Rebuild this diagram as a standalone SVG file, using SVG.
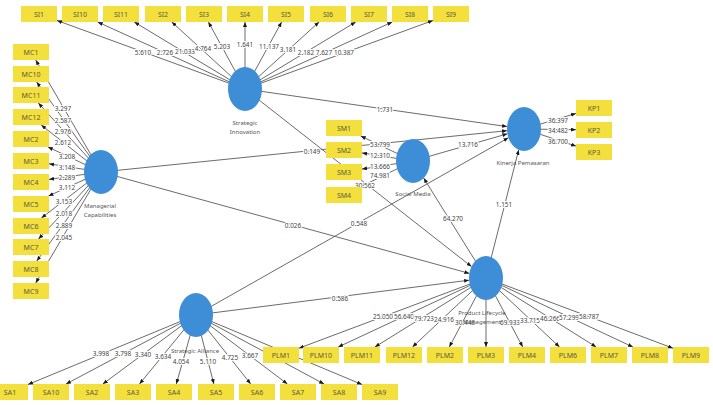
<svg xmlns="http://www.w3.org/2000/svg" width="713" height="405" viewBox="0 0 713 405">
<style>
.ln{stroke:#5a5a5a;stroke-width:0.9;fill:none;marker-end:url(#ah)}
.lb{font-family:"Noto Sans","DejaVu Sans",sans-serif;font-size:6.4px;fill:#444;text-anchor:middle;paint-order:stroke;stroke:#fff;stroke-width:2.2px;stroke-linejoin:round}
.bx{fill:#F4E03C}
.bt{font-family:"Noto Sans","DejaVu Sans",sans-serif;font-size:7px;fill:#5a5a4a;text-anchor:middle}
.lv{fill:#3D8ED6}
.lt{font-family:"Noto Sans","DejaVu Sans",sans-serif;font-size:6px;fill:#555;text-anchor:middle}
</style>
<defs>
<marker id="ah" viewBox="0 0 10 8" refX="10" refY="4" markerWidth="5" markerHeight="4" markerUnits="userSpaceOnUse" orient="auto"><path d="M0,0 L10,4 L0,8 z" fill="#1a1a1a"/></marker>
</defs>
<rect width="713" height="405" fill="#fff"/>
<g id="connectors">
<path class="ln" d="M245,89 L57,20.5"/><path class="ln" d="M245,89 L97.7,22"/><path class="ln" d="M245,89 L134.3,22"/><path class="ln" d="M245,89 L171.8,22"/><path class="ln" d="M245,89 L208.4,22"/><path class="ln" d="M245,89 L245,22"/><path class="ln" d="M245,89 L281.6,22"/><path class="ln" d="M245,89 L319.1,22"/><path class="ln" d="M245,89 L355.7,22"/><path class="ln" d="M245,89 L392.3,22"/><path class="ln" d="M245,89 L433,20.5"/>
<path class="ln" d="M101,172 L35.7,60"/><path class="ln" d="M101,172 L36.7,82"/><path class="ln" d="M101,172 L38.3,103"/><path class="ln" d="M101,172 L41.2,125"/><path class="ln" d="M101,172 L48,147"/><path class="ln" d="M101,172 L49,163.8"/><path class="ln" d="M101,172 L49,179.4"/><path class="ln" d="M101,172 L48.5,196"/><path class="ln" d="M101,172 L41.4,218"/><path class="ln" d="M101,172 L38.5,239"/><path class="ln" d="M101,172 L36.8,261"/><path class="ln" d="M101,172 L35.7,283"/>
<path class="ln" d="M413,161 L360.7,136"/><path class="ln" d="M413,161 L362,152.9"/><path class="ln" d="M413,161 L362,169.1"/><path class="ln" d="M413,161 L360.2,187"/>
<path class="ln" d="M524,129 L576,113.4"/><path class="ln" d="M524,129 L576,129.7"/><path class="ln" d="M524,129 L576,146.1"/>
<path class="ln" d="M486,278 L299,348.2"/><path class="ln" d="M486,278 L338.2,347"/><path class="ln" d="M486,278 L374.9,347"/><path class="ln" d="M486,278 L412.5,347"/><path class="ln" d="M486,278 L449.3,347"/><path class="ln" d="M486,278 L486,347"/><path class="ln" d="M486,278 L522.7,347"/><path class="ln" d="M486,278 L559.5,347"/><path class="ln" d="M486,278 L596.2,347"/><path class="ln" d="M486,278 L632.9,347"/><path class="ln" d="M486,278 L673,348.2"/>
<path class="ln" d="M196,315 L28,384.5"/><path class="ln" d="M196,315 L66,384"/><path class="ln" d="M196,315 L102.8,384"/><path class="ln" d="M196,315 L139.5,384"/><path class="ln" d="M196,315 L176.3,384"/><path class="ln" d="M196,315 L213.9,384"/><path class="ln" d="M196,315 L250.7,384"/><path class="ln" d="M196,315 L287.4,384"/><path class="ln" d="M196,315 L324.1,384"/><path class="ln" d="M196,315 L362,384.5"/>
<path class="ln" d="M101,172 L507,130.7"/>
<path class="ln" d="M245,89 L507.1,126.6"/>
<path class="ln" d="M413,161 L507.4,133.8"/>
<path class="ln" d="M196,315 L508.4,137.8"/>
<path class="ln" d="M486,278 L518.7,149.9"/>
<path class="ln" d="M101,172 L469.4,273.4"/>
<path class="ln" d="M245,89 L471.5,266.6"/>
<path class="ln" d="M196,315 L469.1,280.2"/>
<path class="ln" d="M486,278 L423.7,178.1"/>
<g class="lb">
<text x="143" y="54.5">5.610</text><text x="165" y="54.5">2.726</text><text x="185" y="53.5">21.033</text><text x="203" y="51">4.764</text><text x="222" y="49">5.203</text><text x="245" y="47">1.641</text><text x="269" y="49">11.137</text><text x="288" y="52">3.181</text><text x="306" y="54.5">2.182</text><text x="324" y="54.5">7.627</text><text x="344" y="54.5">10.387</text>
<text x="63" y="110.5">3.297</text><text x="63" y="122.5">2.587</text><text x="63" y="133.5">2.976</text><text x="63" y="144.5">2.612</text><text x="67" y="158.5">3.208</text><text x="67" y="169.5">3.148</text><text x="67" y="179.5">2.289</text><text x="67" y="189.5">3.112</text><text x="64" y="203.5">3.153</text><text x="64" y="215.5">2.018</text><text x="64" y="227.5">2.889</text><text x="64" y="239.5">2.045</text>
<text x="380" y="146.5">53.799</text><text x="380" y="157.5">12.310</text><text x="380" y="168.5">13.666</text><text x="380" y="178">74.981</text>
<text x="558" y="122.5">36.397</text><text x="558" y="132.5">34.482</text><text x="558" y="143.5">36.700</text>
<text x="101" y="355.5">3.998</text><text x="123" y="355.5">3.798</text><text x="143" y="356.5">3.340</text><text x="163" y="358.5">3.634</text><text x="181" y="364">4.054</text><text x="208" y="364">5.110</text><text x="230" y="359.5">4.725</text><text x="250" y="357.5">3.667</text>
<text x="383" y="319">25.050</text><text x="404" y="318.5">56.640</text><text x="424" y="320.5">79.723</text><text x="444" y="321.5">24.916</text><text x="465" y="324.5">30.448</text><text x="510" y="324.5">69.933</text><text x="530" y="322.5">33.715</text><text x="550" y="320.5">46.266</text><text x="569" y="319.5">57.299</text><text x="589" y="318.5">58.787</text>
<text x="312" y="153.5">0.149</text><text x="385" y="111.5">1.731</text><text x="293" y="227.5">0.026</text><text x="359" y="225.5">0.548</text><text x="340" y="300.5">0.586</text><text x="468" y="146.5">13.716</text><text x="453" y="220.5">64.270</text><text x="504" y="206.5">1.151</text><text x="365" y="187.5">30.562</text>
</g>
</g>
<g id="SI_indicators">
<rect class="bx" x="21" y="6" width="36" height="16"/><text class="bt" x="39" y="16.5">SI1</text>
<rect class="bx" x="62" y="6" width="36" height="16"/><text class="bt" x="80" y="16.5">SI10</text>
<rect class="bx" x="103" y="6" width="36" height="16"/><text class="bt" x="121" y="16.5">SI11</text>
<rect class="bx" x="145" y="6" width="36" height="16"/><text class="bt" x="163" y="16.5">SI2</text>
<rect class="bx" x="186" y="6" width="36" height="16"/><text class="bt" x="204" y="16.5">SI3</text>
<rect class="bx" x="227" y="6" width="36" height="16"/><text class="bt" x="245" y="16.5">SI4</text>
<rect class="bx" x="268" y="6" width="36" height="16"/><text class="bt" x="286" y="16.5">SI5</text>
<rect class="bx" x="310" y="6" width="36" height="16"/><text class="bt" x="328" y="16.5">SI6</text>
<rect class="bx" x="351" y="6" width="36" height="16"/><text class="bt" x="369" y="16.5">SI7</text>
<rect class="bx" x="392" y="6" width="36" height="16"/><text class="bt" x="410" y="16.5">SI8</text>
<rect class="bx" x="433" y="6" width="36" height="16"/><text class="bt" x="451" y="16.5">SI9</text>
</g>
<g id="MC_indicators">
<rect class="bx" x="13" y="44" width="36" height="16"/><text class="bt" x="31" y="54.5">MC1</text>
<rect class="bx" x="13" y="66" width="36" height="16"/><text class="bt" x="31" y="76.5">MC10</text>
<rect class="bx" x="13" y="87" width="36" height="16"/><text class="bt" x="31" y="97.5">MC11</text>
<rect class="bx" x="13" y="109" width="36" height="16"/><text class="bt" x="31" y="119.5">MC12</text>
<rect class="bx" x="13" y="131" width="36" height="16"/><text class="bt" x="31" y="141.5">MC2</text>
<rect class="bx" x="13" y="153" width="36" height="16"/><text class="bt" x="31" y="163.5">MC3</text>
<rect class="bx" x="13" y="174" width="36" height="16"/><text class="bt" x="31" y="184.5">MC4</text>
<rect class="bx" x="13" y="196" width="36" height="16"/><text class="bt" x="31" y="206.5">MC5</text>
<rect class="bx" x="13" y="218" width="36" height="16"/><text class="bt" x="31" y="228.5">MC6</text>
<rect class="bx" x="13" y="239" width="36" height="16"/><text class="bt" x="31" y="249.5">MC7</text>
<rect class="bx" x="13" y="261" width="36" height="16"/><text class="bt" x="31" y="271.5">MC8</text>
<rect class="bx" x="13" y="283" width="36" height="16"/><text class="bt" x="31" y="293.5">MC9</text>
</g>
<g id="SM_indicators">
<rect class="bx" x="326" y="120" width="36" height="16"/><text class="bt" x="344" y="130.5">SM1</text>
<rect class="bx" x="326" y="142" width="36" height="16"/><text class="bt" x="344" y="152.5">SM2</text>
<rect class="bx" x="326" y="164" width="36" height="16"/><text class="bt" x="344" y="174.5">SM3</text>
<rect class="bx" x="326" y="187" width="36" height="16"/><text class="bt" x="344" y="197.5">SM4</text>
</g>
<g id="KP_indicators">
<rect class="bx" x="576" y="100" width="36" height="16"/><text class="bt" x="594" y="110.5">KP1</text>
<rect class="bx" x="576" y="122" width="36" height="16"/><text class="bt" x="594" y="132.5">KP2</text>
<rect class="bx" x="576" y="144" width="36" height="16"/><text class="bt" x="594" y="154.5">KP3</text>
</g>
<g id="PLM_indicators">
<rect class="bx" x="263" y="347" width="36" height="16"/><text class="bt" x="281" y="357.5">PLM1</text>
<rect class="bx" x="303" y="347" width="36" height="16"/><text class="bt" x="321" y="357.5">PLM10</text>
<rect class="bx" x="344" y="347" width="36" height="16"/><text class="bt" x="362" y="357.5">PLM11</text>
<rect class="bx" x="386" y="347" width="36" height="16"/><text class="bt" x="404" y="357.5">PLM12</text>
<rect class="bx" x="427" y="347" width="36" height="16"/><text class="bt" x="445" y="357.5">PLM2</text>
<rect class="bx" x="468" y="347" width="36" height="16"/><text class="bt" x="486" y="357.5">PLM3</text>
<rect class="bx" x="509" y="347" width="36" height="16"/><text class="bt" x="527" y="357.5">PLM4</text>
<rect class="bx" x="550" y="347" width="36" height="16"/><text class="bt" x="568" y="357.5">PLM6</text>
<rect class="bx" x="591" y="347" width="36" height="16"/><text class="bt" x="609" y="357.5">PLM7</text>
<rect class="bx" x="632" y="347" width="36" height="16"/><text class="bt" x="650" y="357.5">PLM8</text>
<rect class="bx" x="673" y="347" width="36" height="16"/><text class="bt" x="691" y="357.5">PLM9</text>
</g>
<g id="SA_indicators">
<rect class="bx" x="-8" y="384" width="36" height="16"/><text class="bt" x="10" y="394.5">SA1</text>
<rect class="bx" x="33" y="384" width="36" height="16"/><text class="bt" x="51" y="394.5">SA10</text>
<rect class="bx" x="74" y="384" width="36" height="16"/><text class="bt" x="92" y="394.5">SA2</text>
<rect class="bx" x="115" y="384" width="36" height="16"/><text class="bt" x="133" y="394.5">SA3</text>
<rect class="bx" x="156" y="384" width="36" height="16"/><text class="bt" x="174" y="394.5">SA4</text>
<rect class="bx" x="198" y="384" width="36" height="16"/><text class="bt" x="216" y="394.5">SA5</text>
<rect class="bx" x="239" y="384" width="36" height="16"/><text class="bt" x="257" y="394.5">SA6</text>
<rect class="bx" x="280" y="384" width="36" height="16"/><text class="bt" x="298" y="394.5">SA7</text>
<rect class="bx" x="321" y="384" width="36" height="16"/><text class="bt" x="339" y="394.5">SA8</text>
<rect class="bx" x="362" y="384" width="36" height="16"/><text class="bt" x="380" y="394.5">SA9</text>
</g>
<g id="StrategicInnovation"><ellipse class="lv" cx="245" cy="89" rx="17" ry="22"/><text class="lt" x="245" y="125">Strategic</text><text class="lt" x="245" y="134">Innovation</text></g>
<g id="ManagerialCapabilities"><ellipse class="lv" cx="101" cy="172" rx="17" ry="22"/><text class="lt" x="100" y="207.5">Managerial</text><text class="lt" x="100" y="216.5">Capabilities</text></g>
<g id="SocialMedia"><ellipse class="lv" cx="413" cy="161" rx="17" ry="22"/><text class="lt" x="413" y="196">Social Media</text></g>
<g id="KinerjaPemasaran"><ellipse class="lv" cx="524" cy="129" rx="17" ry="22"/><text class="lt" x="523" y="165">Kinerja Pemasaran</text></g>
<g id="ProductLifecycleManagement"><ellipse class="lv" cx="486" cy="278" rx="17" ry="22"/><text class="lt" x="482" y="315">Product Lifecycle</text><text class="lt" x="482" y="324">Management</text></g>
<g id="StrategicAlliance"><ellipse class="lv" cx="196" cy="315" rx="17" ry="22"/><text class="lt" x="195" y="352.5">Strategic Alliance</text></g>
</svg>
